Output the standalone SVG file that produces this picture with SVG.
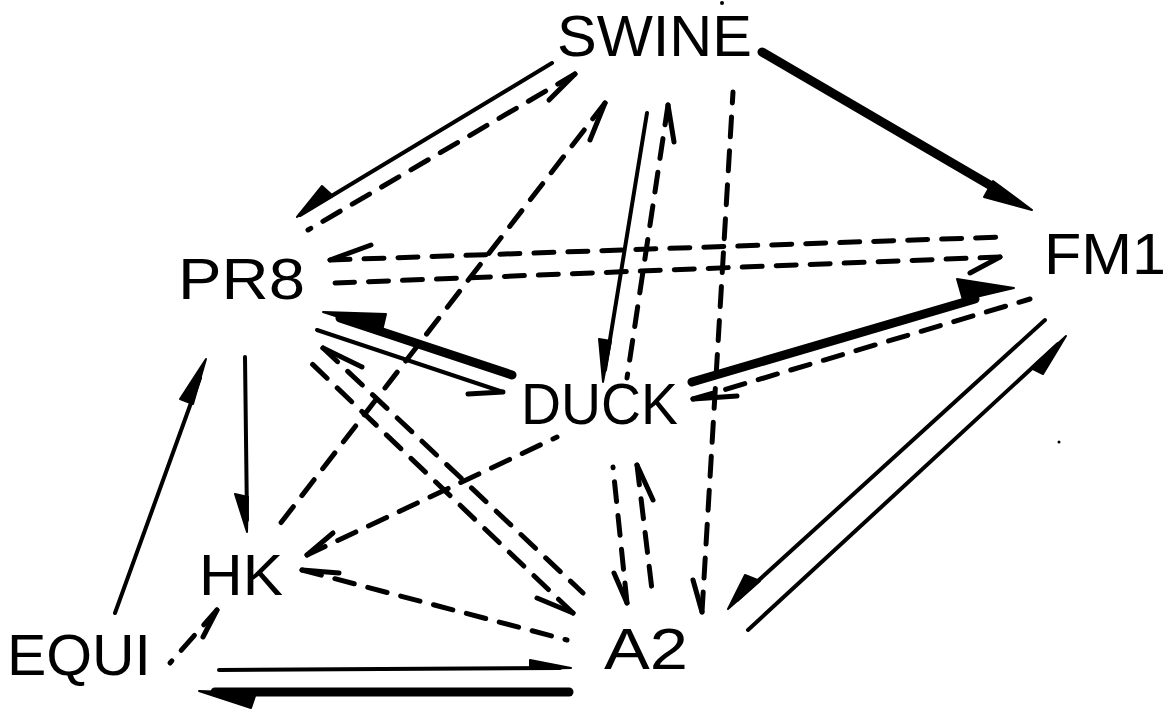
<svg xmlns="http://www.w3.org/2000/svg" width="1172" height="711" viewBox="0 0 1172 711">
  <style>
    .lbl { font-family: "Liberation Sans", Arial, sans-serif; font-size: 58px; fill: #000; }
    .s { stroke: #000; stroke-width: 4; stroke-linecap: round; fill: none; }
    .t { stroke: #000; stroke-width: 9; stroke-linecap: round; fill: none; }
    .d { stroke: #000; stroke-width: 5; stroke-linecap: round; stroke-dasharray: 20 14; fill: none; }
    .barb { stroke: #000; stroke-width: 5; stroke-linecap: round; fill: none; }
    .head { fill: #000; stroke: #000; stroke-width: 2; stroke-linejoin: round; }
  </style>

  <rect width="1172" height="711" fill="#fff"/>

  <!-- nodes -->
  <g id="swine"><text class="lbl" x="557" y="56" textLength="195" lengthAdjust="spacingAndGlyphs">SWINE</text></g>
  <g id="pr8"><text class="lbl" x="178" y="299" textLength="127" lengthAdjust="spacingAndGlyphs">PR8</text></g>
  <g id="fm1"><text class="lbl" x="1044" y="274" textLength="122" lengthAdjust="spacingAndGlyphs">FM1</text></g>
  <g id="duck"><text class="lbl" x="521" y="424" textLength="157" lengthAdjust="spacingAndGlyphs">DUCK</text></g>
  <g id="hk"><text class="lbl" x="199" y="595" textLength="84" lengthAdjust="spacingAndGlyphs">HK</text></g>
  <g id="a2"><text class="lbl" x="604" y="669" textLength="84" lengthAdjust="spacingAndGlyphs">A2</text></g>
  <g id="equi"><text class="lbl" x="7" y="675" textLength="144" lengthAdjust="spacingAndGlyphs">EQUI</text></g>

  <!-- connectors: dashed lines are drawn from the arrow tip backwards so a dash meets the barb -->
  <g id="connectors">
    <g id="swine-pr8"><path class="s" d="M552,63 L300,215"/><polygon class="head" points="297,217 322,186 333,196"/></g>
    <g id="pr8-swine"><path class="d" d="M575,74 L308,230"/><path class="barb" d="M575,74 L549,100"/></g>
    <g id="swine-fm1"><path class="t" d="M762,52 L1000,191"/><polygon class="head" points="1032,210 993,181 984,197"/></g>
    <g id="fm1-pr8"><path class="d" d="M330,260 L1002,237"/><path class="barb" d="M330,260 L371,245"/></g>
    <g id="pr8-fm1"><path class="d" d="M1000,257 L335,283"/><path class="barb" d="M1000,257 L970,273"/></g>
    <g id="duck-pr8"><path class="t" d="M512,375 L340,318"/><polygon class="head" points="323,312 386,314 382,331"/></g>
    <g id="pr8-duck"><path class="s" d="M317,330 L503,392"/><path class="barb" d="M503,392 L468,394"/></g>
    <g id="pr8-hk"><path class="s" d="M245,357 L247,520"/><polygon class="head" points="247,532 235,494 248,497"/></g>
    <g id="equi-pr8"><path class="s" d="M115,613 L200,378"/><polygon class="head" points="206,359 180,399 193,404"/></g>
    <g id="hk-swine"><path class="d" d="M605,103 L273,533"/><path class="barb" d="M605,103 L590,140"/></g>
    <g id="swine-duck"><path class="s" d="M647,113 L605,370"/><polygon class="head" points="603,382 599,339 611,341"/></g>
    <g id="duck-swine"><path class="d" d="M668,105 L627,378"/><path class="barb" d="M668,105 L674,142"/></g>
    <g id="swine-a2"><path class="d" d="M702,612 L733,92"/><path class="barb" d="M702,612 L693,580"/></g>
    <g id="duck-fm1"><path class="t" d="M692,382 L975,299"/><polygon class="head" points="1014,288 957,279 963,300"/></g>
    <g id="fm1-duck"><path class="d" d="M693,399 L1030,299"/><path class="barb" d="M693,399 L737,396"/></g>
    <g id="fm1-a2"><path class="s" d="M1045,320 L737,600"/><polygon class="head" points="728,609 745,575 760,581"/></g>
    <g id="a2-fm1"><path class="s" d="M748,630 L1058,344"/><polygon class="head" points="1066,336 1043,374 1031,368"/></g>
    <g id="duck-hk"><path class="d" d="M307,555 L557,437"/><path class="barb" d="M307,555 L333,533"/></g>
    <g id="pr8-a2"><path class="d" d="M573,613 L308,360"/><path class="barb" d="M573,613 L537,598"/></g>
    <g id="a2-pr8"><path class="d" d="M323,348 L583,593"/><path class="barb" d="M323,348 L362,367"/></g>
    <g id="duck-a2"><path class="d" d="M627,603 L613,467"/><path class="barb" d="M627,603 L614,573"/></g>
    <g id="a2-duck"><path class="d" d="M637,465 L652,590"/><path class="barb" d="M637,465 L653,500"/></g>
    <g id="a2-hk"><path class="d" d="M302,570 L567,640"/><path class="barb" d="M302,570 L339,573"/></g>
    <g id="equi-hk"><path class="d" d="M217,610 L170,663"/><path class="barb" d="M217,610 L203,637"/></g>
    <g id="hk-a2"><path class="s" d="M219,670 L560,668"/><polygon class="head" points="571,668 530,660 530,669"/></g>
    <g id="a2-hk-thick"><path class="t" d="M569,692 L215,692"/><polygon class="head" points="199,691 251,708 256,693"/></g>
  </g>

  <!-- specks -->
  <circle cx="722" cy="3" r="2" fill="#000"/>
  <circle cx="1059" cy="442" r="1.5" fill="#000"/>
</svg>
